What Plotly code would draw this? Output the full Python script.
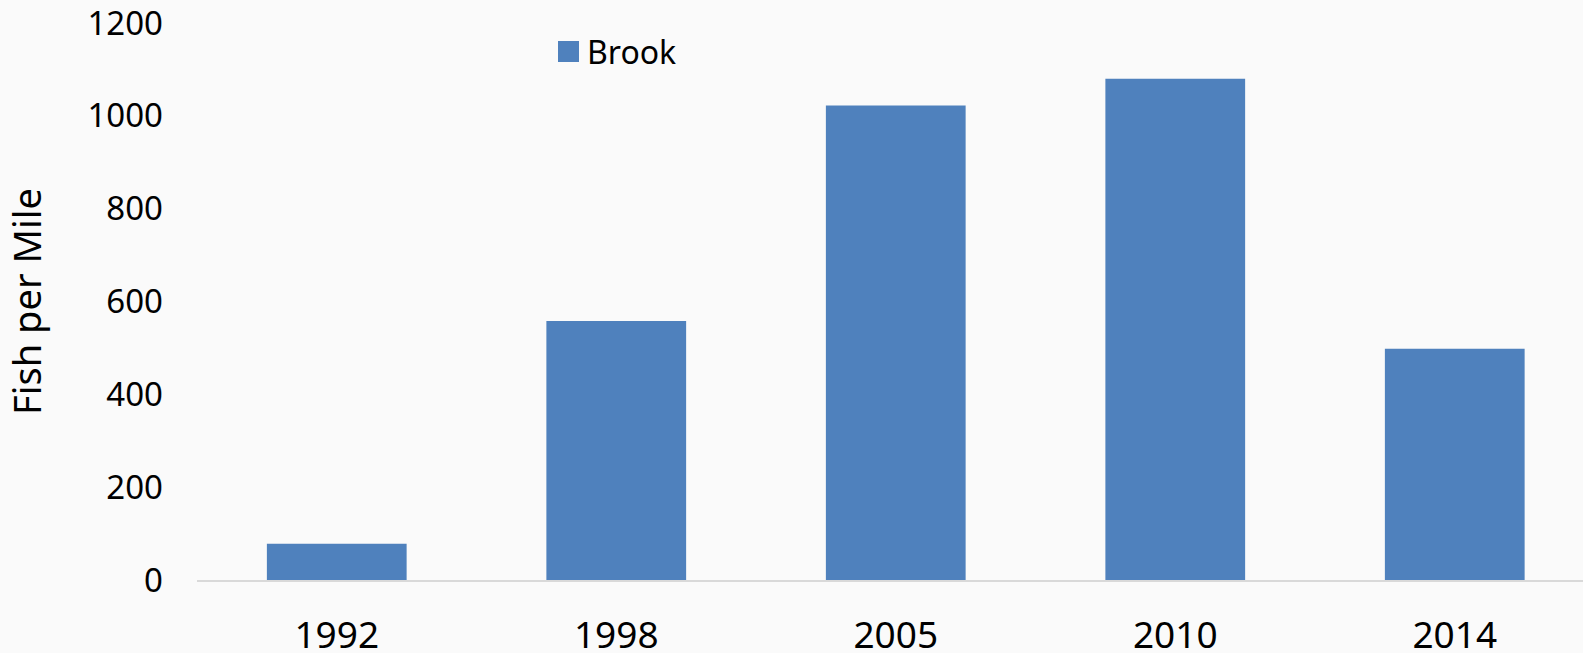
import plotly.graph_objects as go

years = ["1992", "1998", "2005", "2010", "2014"]
brook = [78, 558, 1022, 1080, 498]
y_ticks = [0, 200, 400, 600, 800, 1000, 1200]

W, H = 1583, 653
L, R, T, B = 197, 0, 23, 73
FONT = "Noto Sans"
BG = "#fafafa"

fig = go.Figure()
fig.add_trace(go.Bar(
    x=years, y=brook, name="Brook",
    marker=dict(color="#4f81bd", line=dict(width=0)),
    width=0.5, showlegend=False,
))

# x range: plot area extends slightly past the right edge of the image
cat_w = 279.5
right_cut = 4.5 - (197 + 5 * cat_w - W) / cat_w

fig.update_layout(
    width=W, height=H,
    margin=dict(l=L, r=R, t=T, b=B, pad=0, autoexpand=False),
    paper_bgcolor=BG, plot_bgcolor=BG,
    font=dict(family=FONT, size=33, color="#000000"),
    xaxis=dict(
        type="category", range=[-0.5, right_cut], automargin=False,
        showline=True, linecolor="#d9d9d9", linewidth=2,
        showgrid=False, ticks="", ticklabelstandoff=22,
        ticklabeloverflow="allow",
        tickfont=dict(size=37),
    ),
    yaxis=dict(
        range=[0, 1200], tickvals=y_ticks, ticktext=[str(v) for v in y_ticks],
        automargin=False, ticklabeloverflow="allow",
        showgrid=False, zeroline=False, showline=False, ticks="",
        ticklabelstandoff=33, tickfont=dict(size=33),
        title=dict(text="Fish per Mile", font=dict(size=38), standoff=36),
    ),
    bargap=0.5,
)

# legend drawn manually to match the large square marker
px_x = lambda p: (p - L) / (W - L - R)
px_y = lambda p: (H - B - p) / (H - T - B)
fig.add_shape(type="rect", xref="paper", yref="paper",
              x0=px_x(558), x1=px_x(579), y0=px_y(62), y1=px_y(41),
              fillcolor="#4f81bd", line=dict(width=0))
fig.add_annotation(xref="paper", yref="paper", x=px_x(585), y=px_y(51),
                   xanchor="left", yanchor="middle", text="Brook",
                   showarrow=False, font=dict(size=32, family=FONT))

fig.write_html("out.html")
